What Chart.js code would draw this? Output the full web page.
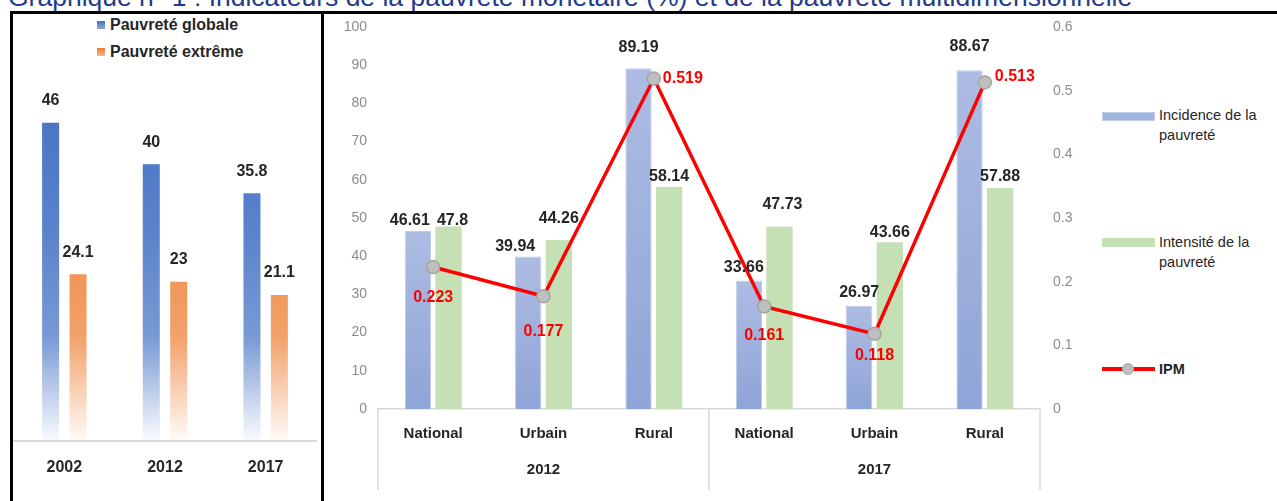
<!DOCTYPE html>
<html lang="fr">
<head>
<meta charset="utf-8">
<title>Indicateurs de la pauvreté</title>
<script src="https://cdn.jsdelivr.net/npm/chart.js@4.4.1/dist/chart.umd.min.js"></script>
<style>
  body { margin: 0; width: 1277px; height: 501px; overflow: hidden; position: relative; background: #fff;
         font-family: "Liberation Sans", Arial, sans-serif; }
  #title { position: absolute; left: 8px; top: -18px; font-size: 26.5px; line-height: 30px; color: #1f3b8a; white-space: nowrap; }
  #leftBox { position: absolute; left: 10px; top: 11px; width: 308px; height: 500px; border: 3px solid #000; border-bottom: none; }
  #rightBox { position: absolute; left: 321px; top: 11px; width: 960px; height: 500px; border-top: 3px solid #000; }
  .wrap { position: absolute; }
  #leftWrap { left: 13px; top: 14px; width: 307px; height: 487px; }
  #rightWrap { left: 324px; top: 14px; width: 953px; height: 487px; }
  .leg { position: absolute; color: #262626; white-space: nowrap; }
  .lgLeft { left: 97px; font-weight: bold; font-size: 16px; line-height: 20px; }
  .lgLeft i { display: inline-block; width: 8px; height: 8px; margin-right: 5px; vertical-align: 1px; }
  .sw { position: absolute; left: 1102px; width: 53px; height: 9px; }
  .lgRight { left: 1159px; font-size: 14.5px; line-height: 20px; }
</style>
</head>
<body>
<div id="title">Graphique n° 1 : Indicateurs de la pauvreté monétaire (%) et de la pauvreté multidimensionnelle</div>
<div id="leftBox"></div>
<div id="rightBox"></div>

<div class="leg lgLeft" style="top:15px"><i style="background:linear-gradient(#4472c4,#8fa9dc)"></i>Pauvreté globale</div>
<div class="leg lgLeft" style="top:42px"><i style="background:linear-gradient(#ed7d31,#f5b78c)"></i>Pauvreté extrême</div>

<div class="sw" style="top:112px; background:#a3b4de; border:1px solid #c0cdeb; box-sizing:border-box"></div>
<div class="leg lgRight" style="top:105px">Incidence de la<br>pauvreté</div>
<div class="sw" style="top:238px; background:#c5e0b4"></div>
<div class="leg lgRight" style="top:232px">Intensité de la<br>pauvreté</div>
<div class="sw" style="top:367px; height:3.5px; background:#ff0000"></div>
<div style="position:absolute; left:1122px; top:363px; width:10px; height:10px; border-radius:50%; background:#bfbfbf; border:1.5px solid #a5a5a5"></div>
<div class="leg lgRight" style="top:359px; font-weight:bold">IPM</div>

<div class="wrap" id="leftWrap"><canvas id="leftChart"></canvas></div>
<div class="wrap" id="rightWrap"><canvas id="rightChart"></canvas></div>

<script>
// ---- data ----
const leftYears = ['2002', '2012', '2017'];
const globalPoverty = [46, 40, 35.8];
const extremePoverty = [24.1, 23, 21.1];

const zones = ['National', 'Urbain', 'Rural', 'National', 'Urbain', 'Rural'];
const surveyYears = ['2012', '2017'];
const incidence = [46.61, 39.94, 89.19, 33.66, 26.97, 88.67];
const intensity = [47.8, 44.26, 58.14, 47.73, 43.66, 57.88];
const ipm = [0.223, 0.177, 0.519, 0.161, 0.118, 0.513];

// label nudges (px) relative to bar top / point, as placed in the original
const incidenceNudge = [[-8, -10], [-13, -10], [0, -21], [-5, -13], [0, -13], [0, -24]];
const intensityNudge = [[4, -6], [0, -21], [0, -10], [3, -22], [0, -10], [0, -11]];
const ipmNudge = [[0, 31], [0, 35], [29, 0], [0, 29], [0, 22], [30, -6]];

const FONT = '"Liberation Sans", Arial, sans-serif';
Chart.defaults.font.family = FONT;
Chart.defaults.animation = false;

// draws value labels next to each mark
function labelPlugin(sets) {
    return {
        id: 'valueLabels',
        afterDatasetsDraw(chart) {
            const ctx = chart.ctx;
            ctx.save();
            ctx.textAlign = 'center';
            ctx.textBaseline = 'middle';
            sets.forEach((s, i) => {
                if (!s) return;
                const meta = chart.getDatasetMeta(i);
                ctx.font = 'bold 16px ' + FONT;
                ctx.fillStyle = s.color;
                meta.data.forEach((el, j) => {
                    const off = s.offsets[j];
                    ctx.fillText(String(chart.data.datasets[i].data[j]), el.x + off[0], el.y + off[1]);
                });
            });
            ctx.restore();
        }
    };
}

function fade(rgb) {
    return (c) => {
        const area = c.chart.chartArea;
        if (!area) return 'rgb(' + rgb + ')';
        const g = c.chart.ctx.createLinearGradient(0, area.bottom, 0, area.top);
        g.addColorStop(0, 'rgba(' + rgb + ',0.03)');
        g.addColorStop(0.12, 'rgba(' + rgb + ',0.3)');
        g.addColorStop(0.3, 'rgba(' + rgb + ',0.72)');
        g.addColorStop(0.6, 'rgba(' + rgb + ',0.88)');
        g.addColorStop(1, 'rgba(' + rgb + ',1)');
        return g;
    };
}

// ---- left chart ----
const leftOffsets = leftYears.map(() => [0, -22]);
new Chart(document.getElementById('leftChart'), {
    type: 'bar',
    data: {
        labels: leftYears,
        datasets: [
            { label: 'Pauvreté globale', data: globalPoverty, backgroundColor: fade('68,114,196'),
              categoryPercentage: 0.545, barPercentage: 0.62 },
            { label: 'Pauvreté extrême', data: extremePoverty, backgroundColor: fade('237,125,49'),
              categoryPercentage: 0.545, barPercentage: 0.62 }
        ]
    },
    options: {
        responsive: true, maintainAspectRatio: false,
        layout: { padding: { left: 1, right: 4, top: 81, bottom: 0 } },
        plugins: { legend: { display: false }, tooltip: { enabled: false } },
        scales: {
            x: {
                grid: { display: false, drawTicks: false },
                border: { display: true, color: '#d9d9d9', width: 2 },
                ticks: { color: '#262626', font: { size: 16, weight: 'bold' }, padding: 17 },
                afterFit: s => { s.height = 60; s.paddingLeft = 0; s.paddingRight = 0; }
            },
            y: { display: false, min: 0, max: 50 }
        }
    },
    plugins: [labelPlugin([
        { color: '#262626', offsets: leftOffsets },
        { color: '#262626', offsets: leftOffsets }
    ])]
});

// ---- right chart ----
const groupAxis = {
    id: 'groupAxis',
    afterDraw(chart) {
        const ctx = chart.ctx;
        const xs = chart.scales.x;
        const area = chart.chartArea;
        const per = zones.length / surveyYears.length;
        ctx.save();
        ctx.strokeStyle = '#d9d9d9';
        ctx.lineWidth = 1.5;
        const bounds = [area.left];
        for (let k = 1; k < surveyYears.length; k++) {
            bounds.push((xs.getPixelForValue(k * per - 1) + xs.getPixelForValue(k * per)) / 2);
        }
        bounds.push(area.right);
        bounds.forEach(x => {
            ctx.beginPath();
            ctx.moveTo(x, area.bottom);
            ctx.lineTo(x, area.bottom + 81);
            ctx.stroke();
        });
        ctx.fillStyle = '#262626';
        ctx.font = 'bold 15px ' + FONT;
        ctx.textAlign = 'center';
        ctx.textBaseline = 'middle';
        surveyYears.forEach((yr, k) => {
            const mid = (xs.getPixelForValue(k * per) + xs.getPixelForValue(k * per + per - 1)) / 2;
            ctx.fillText(yr, mid, area.bottom + 61);
        });
        ctx.restore();
    }
};

function barShade(top, bottom) {
    return (c) => {
        if (c.type !== 'data' || !c.chart.chartArea) return top;
        const ys = c.chart.scales.y;
        const g = c.chart.ctx.createLinearGradient(0, ys.getPixelForValue(c.raw), 0, ys.getPixelForValue(0));
        g.addColorStop(0, top);
        g.addColorStop(1, bottom);
        return g;
    };
}

new Chart(document.getElementById('rightChart'), {
    type: 'bar',
    data: {
        labels: zones,
        datasets: [
            { type: 'line', label: 'IPM', data: ipm, yAxisID: 'y2', order: 0,
              borderColor: '#ff0000', borderWidth: 3.5, tension: 0,
              pointRadius: 6.5, pointBackgroundColor: '#bfbfbf', pointBorderColor: '#a5a5a5', pointBorderWidth: 1.5 },
            { label: 'Incidence de la pauvreté', data: incidence, yAxisID: 'y', order: 1,
              backgroundColor: barShade('#adbce2', '#8fa4d7'), borderColor: '#c0cdeb', borderWidth: 1,
              categoryPercentage: 0.555, barPercentage: 0.86 },
            { label: 'Intensité de la pauvreté', data: intensity, yAxisID: 'y', order: 1,
              backgroundColor: '#c5e0b4',
              categoryPercentage: 0.555, barPercentage: 0.86 }
        ]
    },
    options: {
        responsive: true, maintainAspectRatio: false,
        layout: { padding: { left: 0, right: 0, top: 13, bottom: 0 } },
        plugins: { legend: { display: false }, tooltip: { enabled: false } },
        scales: {
            x: {
                grid: { display: false, drawTicks: false },
                border: { display: true, color: '#d9d9d9', width: 1.5 },
                ticks: { color: '#262626', font: { size: 15, weight: 'bold' }, padding: 16 },
                afterFit: s => { s.height = 92; s.paddingLeft = 0; s.paddingRight = 0; }
            },
            y: {
                position: 'left', min: 0, max: 100,
                grid: { display: false, drawTicks: false },
                border: { display: false },
                ticks: { stepSize: 10, color: '#8c8c8c', font: { size: 14 }, padding: 11 },
                afterFit: s => { s.width = 54; s.paddingTop = 0; s.paddingBottom = 0; }
            },
            y2: {
                position: 'right', min: 0, max: 0.6,
                grid: { display: false, drawTicks: false },
                border: { display: false },
                ticks: { stepSize: 0.1, color: '#8c8c8c', font: { size: 14 }, padding: 13 },
                afterFit: s => { s.width = 237; s.paddingTop = 0; s.paddingBottom = 0; }
            }
        }
    },
    plugins: [groupAxis, labelPlugin([
        { color: '#ff0000', offsets: ipmNudge },
        { color: '#262626', offsets: incidenceNudge },
        { color: '#262626', offsets: intensityNudge }
    ])]
});
</script>
</body>
</html>
